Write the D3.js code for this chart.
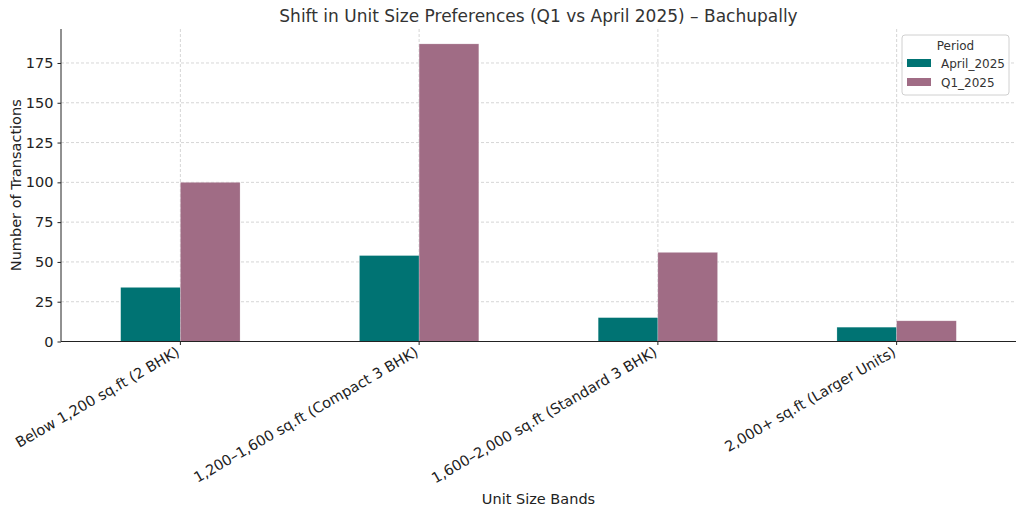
<!DOCTYPE html>
<html lang="en">
<head>
  <meta charset="utf-8">
  <title>Unit size preferences</title>
  <style>
    body { margin: 0; background: #fff; }
    svg text { font-family: "DejaVu Sans", sans-serif; }
    .grid line { stroke: #cccccc; stroke-dasharray: 3,2; stroke-width: 0.8px; }
    .axis path, .axis line { stroke: #222; }
    .axis text { fill: #222; font-size: 14.5px; }
  </style>
</head>
<body>
<script src="https://d3js.org/d3.v7.min.js"></script>
<svg></svg>
<script>

// Data
var categories = [
  "Below 1,200 sq.ft (2 BHK)",
  "1,200–1,600 sq.ft (Compact 3 BHK)",
  "1,600–2,000 sq.ft (Standard 3 BHK)",
  "2,000+ sq.ft (Larger Units)"
];
var series = ["April_2025", "Q1_2025"];
var april2025 = [34, 54, 15, 9];
var q12025 = [100, 187, 56, 13];
var yTicks = [0, 25, 50, 75, 100, 125, 150, 175];
var colors = ["#007373", "#a06c85"];

var width = 1024, height = 516;
var margins = {top: 29, right: 8, bottom: 174.5, left: 61};
var innerW = width - margins.left - margins.right;
var innerH = height - margins.top - margins.bottom;

var svg = d3.select('svg')
            .attr('width', width)
            .attr('height', height);

var g = svg.append('g')
           .attr('transform', 'translate(' + margins.left + ',' + margins.top + ')');

// Scales
var xScale = d3.scaleBand().domain(categories)
               .range([0, innerW])
               .paddingInner(0.5).paddingOuter(0.25);
var xSub = d3.scaleBand().domain(series).range([0, xScale.bandwidth()]);

var yMax = d3.max(q12025.concat(april2025)) * 1.05;
var yScale = d3.scaleLinear().domain([0, yMax]).range([innerH, 0]);

// Grid lines (dashed)
g.append('g').attr('class', 'grid')
 .selectAll('line').data(yTicks.slice(1)).enter().append('line')
 .attr('x1', 0).attr('x2', innerW)
 .attr('y1', function(d) { return yScale(d); })
 .attr('y2', function(d) { return yScale(d); });

g.append('g').attr('class', 'grid')
 .selectAll('line').data(categories).enter().append('line')
 .attr('x1', function(d) { return xScale(d) + xScale.bandwidth() / 2; })
 .attr('x2', function(d) { return xScale(d) + xScale.bandwidth() / 2; })
 .attr('y1', 0).attr('y2', innerH);

// Bars
var values = [april2025, q12025];
series.forEach(function(s, si) {
  g.append('g')
   .selectAll('rect')
   .data(values[si])
   .enter()
   .append('rect')
   .attr('x', function(d, i) { return xScale(categories[i]) + xSub(s); })
   .attr('y', function(d) { return yScale(d); })
   .attr('width', xSub.bandwidth())
   .attr('height', function(d) { return innerH - yScale(d); })
   .attr('fill', colors[si])
   .attr('stroke', '#ffffff')
   .attr('stroke-opacity', 0.35)
   .attr('stroke-width', 0.6);
});

// Y axis
var yAxis = g.append('g').attr('class', 'axis')
  .call(d3.axisLeft(yScale).tickValues(yTicks).tickSize(3.5).tickPadding(4));
yAxis.select('.domain').attr('d', 'M0,' + innerH + 'V0');

// X axis
var xAxis = g.append('g').attr('class', 'axis')
  .attr('transform', 'translate(0,' + innerH + ')')
  .call(d3.axisBottom(xScale).tickSize(3.5).tickSizeOuter(0).tickPadding(3));
xAxis.select('.domain').attr('d', 'M0,0H' + innerW);
xAxis.selectAll('.tick text')
  .attr('text-anchor', 'end')
  .attr('dy', '0.7em')
  .attr('transform', 'translate(-8,-1) rotate(-30)');

// Axis titles
svg.append('text')
   .attr('transform', 'translate(21,' + (margins.top + innerH / 2) + ') rotate(-90)')
   .attr('text-anchor', 'middle')
   .attr('fill', '#222')
   .attr('font-size', '14.5px')
   .text('Number of Transactions');

svg.append('text')
   .attr('x', margins.left + innerW / 2)
   .attr('y', 504)
   .attr('text-anchor', 'middle')
   .attr('fill', '#222')
   .attr('font-size', '14.5px')
   .text('Unit Size Bands');

// Title
svg.append('text')
   .attr('x', margins.left + innerW / 2)
   .attr('y', 22)
   .attr('text-anchor', 'middle')
   .attr('fill', '#333')
   .attr('font-size', '17px')
   .text('Shift in Unit Size Preferences (Q1 vs April 2025) – Bachupally');

// Legend
var legend = svg.append('g').attr('transform', 'translate(902,35)');
legend.append('rect')
  .attr('width', 107).attr('height', 60).attr('rx', 3)
  .attr('fill', '#fff').attr('fill-opacity', 0.85)
  .attr('stroke', '#d0d0d0');
legend.append('text')
  .attr('x', 53.5).attr('y', 15)
  .attr('text-anchor', 'middle')
  .attr('fill', '#333').attr('font-size', '12px')
  .text('Period');
series.forEach(function(s, si) {
  var row = legend.append('g').attr('transform', 'translate(5,' + (24 + si * 19) + ')');
  row.append('rect').attr('width', 24).attr('height', 8).attr('fill', colors[si]);
  row.append('text').attr('x', 34).attr('y', 9)
     .attr('fill', '#333').attr('font-size', '12px').text(s);
});

</script>
</body>
</html>
